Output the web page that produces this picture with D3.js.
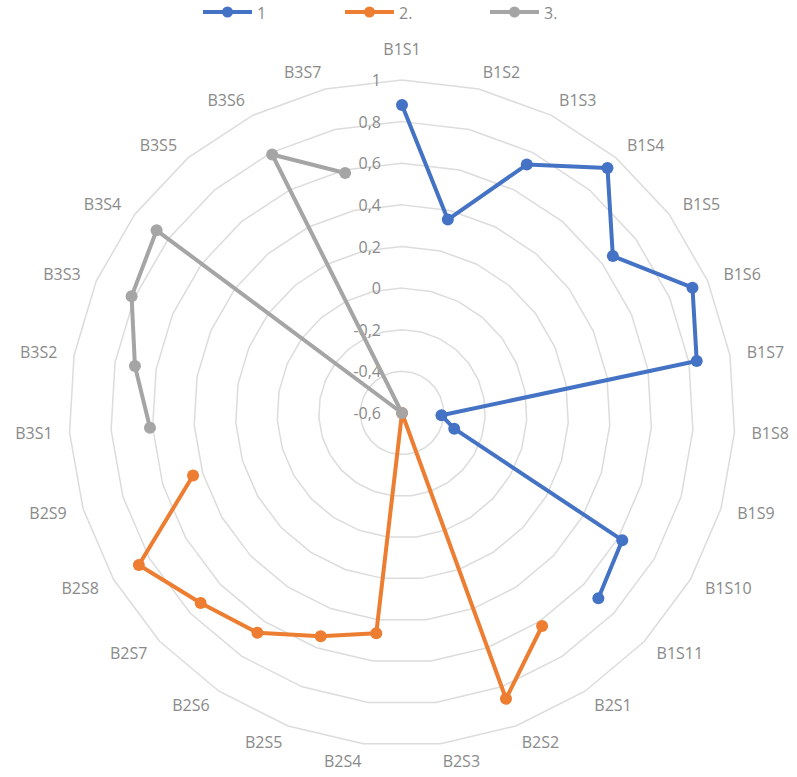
<!DOCTYPE html>
<html>
<head>
<meta charset="utf-8">
<script src="https://cdn.jsdelivr.net/npm/d3@7"></script>
<style>
  html, body { margin: 0; padding: 0; background: #ffffff; }
  svg { display: block; }
  text { font-family: "Open Sans", "DejaVu Sans", sans-serif; }
</style>
</head>
<body>
<svg id="chart" width="797" height="777"></svg>
<script>
const categories = [
  "B1S1","B1S2","B1S3","B1S4","B1S5","B1S6","B1S7","B1S8","B1S9","B1S10","B1S11",
  "B2S1","B2S2","B2S3","B2S4","B2S5","B2S6","B2S7","B2S8","B2S9",
  "B3S1","B3S2","B3S3","B3S4","B3S5","B3S6","B3S7"
];
const seriesNames = ["1", "2.", "3."];
const series1 = [0.88, 0.355, 0.736, 0.936, 0.663, 0.92, 0.838, -0.41, -0.338, 0.622, 0.697,
  null, null, null, null, null, null, null, null, null,
  null, null, null, null, null, null, null];
const series2 = [null, null, null, null, null, null, null, null, null, null, null,
  0.625, 0.861, -0.6, 0.465, 0.542, 0.664, 0.73, 0.86, 0.448,
  null, null, null, null, null, null, null];
const series3 = [null, null, null, null, null, null, null, null, null, null, null,
  null, null, null, null, null, null, null, null, null,
  0.613, 0.703, 0.815, 0.87, -0.6, 0.79, 0.585];
const tickValues = [-0.6, -0.4, -0.2, 0, 0.2, 0.4, 0.6, 0.8, 1];
const tickLabels = ["-0,6", "-0,4", "-0,2", "0", "0,2", "0,4", "0,6", "0,8", "1"];
const colors = ["#4472C4", "#ED7D31", "#A5A5A5"];

const svg = d3.select("#chart");
const cx = 402, cy = 413, R = 333;
const n = categories.length;

const r = d3.scaleLinear().domain([-0.6, 1]).range([0, R]);
const ang = d3.scaleLinear().domain([0, n]).range([0, 2 * Math.PI]);

const g = svg.append("g").attr("transform", `translate(${cx},${cy})`);

// grid polygons
const ringLine = d3.lineRadial().angle((d, i) => ang(i)).radius(d => d).curve(d3.curveLinearClosed);
tickValues.forEach(v => {
  if (r(v) <= 0) return;
  g.append("path")
    .attr("d", ringLine(categories.map(() => r(v))))
    .attr("fill", "none")
    .attr("stroke", "#dcdcdc")
    .attr("stroke-width", 1.5);
});

// tick labels
g.selectAll(".tick").data(tickValues).enter().append("text")
  .attr("x", -21)
  .attr("y", d => -r(d))
  .attr("text-anchor", "end")
  .attr("dominant-baseline", "central")
  .attr("font-size", 16)
  .attr("fill", "#8a8a8a")
  .text((d, i) => tickLabels[i]);

// category labels
categories.forEach((c, i) => {
  const a = ang(i);
  const s = Math.sin(a), co = Math.cos(a);
  let x = s * (R + 17), y = -co * (R + 17);
  let anchor = s > 0.05 ? "start" : (s < -0.05 ? "end" : "middle");
  if (Math.abs(s) <= 0.05 && co > 0) y -= 14;
  g.append("text")
    .attr("x", x).attr("y", y)
    .attr("text-anchor", anchor)
    .attr("dominant-baseline", "central")
    .attr("font-size", 16)
    .attr("fill", "#8a8a8a")
    .text(c);
});

// series
const allSeries = [series1, series2, series3];
const line = d3.lineRadial()
  .defined(d => d != null)
  .angle((d, i) => ang(i))
  .radius(d => r(d));

allSeries.forEach((s, k) => {
  g.append("path")
    .attr("d", line(s))
    .attr("fill", "none")
    .attr("stroke", colors[k])
    .attr("stroke-width", 4)
    .attr("stroke-linejoin", "round");
  g.selectAll(".m" + k).data(s.map((v, i) => ({v, i})).filter(d => d.v != null))
    .enter().append("circle")
    .attr("cx", d => Math.sin(ang(d.i)) * r(d.v))
    .attr("cy", d => -Math.cos(ang(d.i)) * r(d.v))
    .attr("r", 6)
    .attr("fill", colors[k]);
});

// legend
const legendX = [203, 345, 490];
const lg = svg.append("g");
seriesNames.forEach((name, k) => {
  const x0 = legendX[k];
  lg.append("line").attr("x1", x0).attr("x2", x0 + 49).attr("y1", 12).attr("y2", 12)
    .attr("stroke", colors[k]).attr("stroke-width", 4);
  lg.append("circle").attr("cx", x0 + 24.5).attr("cy", 12).attr("r", 5.5).attr("fill", colors[k]);
  lg.append("text").attr("x", x0 + 54).attr("y", 13)
    .attr("dominant-baseline", "central")
    .attr("font-size", 16).attr("fill", "#8a8a8a").text(name);
});
</script>
</body>
</html>
